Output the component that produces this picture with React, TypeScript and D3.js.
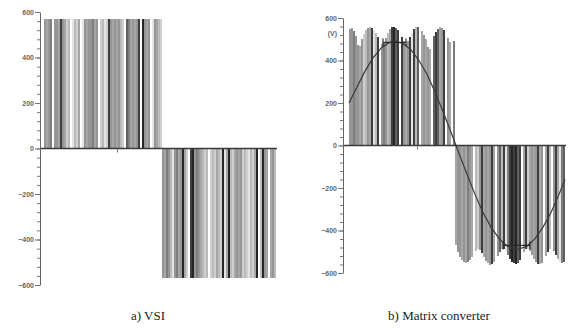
import React, { FC, useEffect, useRef } from "react"
import { select, scaleLinear, axisLeft, axisBottom, line, range } from "d3"

// tick labels (volts)
const majorTicks = [-600, -400, -200, 0, 200, 400, 600]
const minorTicks = range(-600, 601, 40)

// a) VSI: one stripe per 2 time units, shade 0 = gap, 9 = black
const vsiLevel = 570
const vsiPosShade = [5, 4, 5, 6, 0, 5, 5, 4, 8, 5, 4, 2, 3, 0, 1, 3, 2, 4, 0, 1, 5, 4, 5, 5, 6, 4, 5, 0, 2, 3, 1, 2, 8, 5, 4, 5, 4, 5, 3, 2, 0, 7, 6, 4, 5, 4, 5, 8, 0, 9, 5, 4, 5, 0, 1, 5, 4, 3, 2]
const vsiNegShade = [5, 4, 6, 5, 3, 1, 5, 6, 4, 5, 9, 4, 2, 0, 8, 9, 5, 6, 5, 4, 3, 2, 3, 0, 2, 3, 2, 4, 3, 2, 9, 1, 4, 9, 3, 2, 4, 5, 4, 5, 2, 3, 2, 1, 3, 2, 4, 9, 0, 3, 9, 5, 4, 0, 4, 5, 3]

// b) Matrix converter: pulse heights follow the input line-voltage humps
const mcPosTop = [550, 555, 540, 515, 475, 470, 500, 525, 545, 555, 558, 555, 545, 530, 510, 490, 480, 485, 505, 530, 548, 556, 558, 555, 545, 530, 510, 490, 480, 490, 510, 530, 548, 556, 558, 553, 540, 520, 500, 465, 455, 470, 515, 535, 550, 558, 555, 545, 525, 505, 488, 480, 490]
const mcPosShade = [5, 5, 6, 5, 5, 4, 5, 2, 3, 5, 4, 8, 1, 3, 8, 0, 5, 6, 5, 3, 4, 8, 9, 7, 8, 0, 8, 5, 4, 5, 8, 1, 8, 3, 7, 0, 4, 5, 4, 5, 4, 0, 7, 8, 7, 4, 5, 8, 0, 5, 4, 0, 6]
const mcNegTop = [470, 500, 525, 540, 550, 553, 550, 540, 525, 510, 495, 485, 490, 505, 525, 542, 553, 560, 558, 550, 535, 518, 500, 488, 485, 495, 515, 535, 550, 555, 558, 552, 540, 520, 500, 488, 485, 495, 515, 535, 550, 556, 558, 552, 540, 520, 500, 488, 485, 495, 515, 535, 548, 555, 550]
const mcNegShade = [4, 5, 5, 4, 5, 4, 6, 5, 4, 0, 3, 2, 5, 8, 4, 5, 4, 5, 8, 4, 0, 5, 7, 3, 8, 1, 6, 8, 9, 8, 9, 7, 8, 0, 4, 8, 2, 4, 5, 4, 5, 8, 4, 5, 0, 4, 8, 3, 0, 5, 8, 4, 1, 6, 7]

// fundamental output voltage (time units, volts)
const fundT = [0, 8, 16, 24, 32, 40, 46, 54, 62, 70, 78, 86, 94, 102, 107, 110, 118, 126, 134, 142, 150, 158, 168, 178, 186, 194, 202, 210, 216]
const fundV = [200, 275, 350, 412, 458, 484, 490, 480, 450, 400, 335, 252, 160, 62, 0, -38, -135, -230, -315, -384, -437, -473, -490, -474, -438, -384, -315, -230, -160]

// peak markers on the fundamental
const markStart = [34, 154]
const markEnd = [57, 181]
const markV = [485, -470]

const greys = ["#ffffff", "#e4e4e4", "#cfcfcf", "#bababa", "#a6a6a6", "#969696", "#7e7e7e", "#606060", "#3e3e3e", "#252525"]

const App: FC = () => {
  const svgRef = useRef<SVGSVGElement>(null)

  useEffect(() => {
    const svg = select(svgRef.current)
    svg.selectAll("*").remove()

    const drawAxis = (axisX: number, y: any, labelFont: number) => {
      const g = svg.append("g").attr("transform", `translate(${axisX},0)`)
      g.call(axisLeft(y).tickValues(minorTicks).tickSize(3).tickSizeOuter(0).tickFormat(() => ""))
      const major = svg.append("g").attr("transform", `translate(${axisX},0)`)
      major.call(axisLeft(y).tickValues(majorTicks).tickSize(5).tickSizeOuter(0))
      svg.selectAll(".domain").attr("stroke", "#666")
      svg.selectAll(".tick line").attr("stroke", "#777")
      major
        .selectAll("text")
        .attr("font-family", "Liberation Sans, Arial, sans-serif")
        .attr("font-size", labelFont)
        .attr("font-weight", "bold")
        .attr("fill", "#666")
        .attr("x", -6)
      major.select(".domain").remove()
    }

    const drawStripes = (
      x: any,
      y: any,
      start: number,
      tops: number[],
      shades: number[],
      sign: number,
    ) => {
      svg
        .append("g")
        .attr("shape-rendering", "crispEdges")
        .selectAll("rect")
        .data(shades.map((s, i) => ({ s, i, v: tops[i] * sign })).filter((d) => d.s > 0))
        .join("rect")
        .attr("x", (d) => x(start + d.i * 2))
        .attr("width", (d) => x(start + d.i * 2 + 2) - x(start + d.i * 2))
        .attr("y", (d) => Math.min(y(d.v), y(0)))
        .attr("height", (d) => Math.abs(y(d.v) - y(0)))
        .attr("fill", (d) => greys[d.s])
    }

    // ---- a) VSI
    const nL = (vsiPosShade.length + vsiNegShade.length) * 2
    const xL = scaleLinear().domain([0, nL]).range([44, 276])
    const yL = scaleLinear().domain([-600, 600]).range([285, 12])
    drawStripes(xL, yL, 0, vsiPosShade.map(() => vsiLevel), vsiPosShade, 1)
    drawStripes(xL, yL, vsiPosShade.length * 2, vsiNegShade.map(() => vsiLevel), vsiNegShade, -1)
    svg
      .append("line")
      .attr("x1", 40)
      .attr("x2", xL(nL) + 1)
      .attr("y1", yL(0))
      .attr("y2", yL(0))
      .attr("stroke", "#3a3a3a")
      .attr("stroke-width", 1.5)
    svg
      .append("g")
      .attr("transform", `translate(0,${yL(0)})`)
      .call(axisBottom(xL).tickValues([73]).tickSize(4).tickFormat(() => ""))
      .call((g) => g.select(".domain").remove())
      .selectAll("line")
      .attr("stroke", "#777")
    drawAxis(40, yL, 7)

    // ---- b) Matrix converter
    const nR = (mcPosShade.length + mcNegShade.length) * 2
    const xR = scaleLinear().domain([0, nR]).range([349, 565])
    const yR = scaleLinear().domain([-600, 600]).range([273, 18])
    drawStripes(xR, yR, 0, mcPosTop, mcPosShade, 1)
    drawStripes(xR, yR, mcPosShade.length * 2, mcNegTop, mcNegShade, -1)
    svg
      .append("line")
      .attr("x1", 343)
      .attr("x2", xR(nR) + 1)
      .attr("y1", yR(0))
      .attr("y2", yR(0))
      .attr("stroke", "#3a3a3a")
      .attr("stroke-width", 1.5)
    svg
      .append("g")
      .attr("transform", `translate(0,${yR(0)})`)
      .call(axisBottom(xR).tickValues([68]).tickSize(4).tickFormat(() => ""))
      .call((g) => g.select(".domain").remove())
      .selectAll("line")
      .attr("stroke", "#777")

    const fundLine = line<number>()
      .x((_, i) => xR(fundT[i]))
      .y((d) => yR(d))
    svg
      .append("path")
      .attr("d", fundLine(fundV))
      .attr("fill", "none")
      .attr("stroke", "#3a3a3a")
      .attr("stroke-width", 1.2)

    markV.forEach((v, i) => {
      const g = svg.append("g").attr("stroke", "#2a2a2a").attr("stroke-width", 1.2)
      g.append("line")
        .attr("x1", xR(markStart[i]))
        .attr("x2", xR(markEnd[i]))
        .attr("y1", yR(v))
        .attr("y2", yR(v))
      ;[markStart[i], markEnd[i]].forEach((t) =>
        g
          .append("line")
          .attr("x1", xR(t))
          .attr("x2", xR(t))
          .attr("y1", yR(v) - 4)
          .attr("y2", yR(v) + 4),
      )
    })

    drawAxis(343, yR, 7)
    svg
      .append("text")
      .attr("x", 337)
      .attr("y", yR(525))
      .attr("dy", "0.32em")
      .attr("text-anchor", "end")
      .attr("font-family", "Liberation Sans, Arial, sans-serif")
      .attr("font-size", 7)
      .attr("font-weight", "bold")
      .attr("fill", "#666")
      .text("(V)")

    // captions
    const captions = [
      { x: 148, text: "a) VSI" },
      { x: 439, text: "b) Matrix converter" },
    ]
    svg
      .selectAll("text.caption")
      .data(captions)
      .join("text")
      .attr("class", "caption")
      .attr("x", (d) => d.x)
      .attr("y", 320)
      .attr("text-anchor", "middle")
      .attr("font-family", "Liberation Serif, Times New Roman, serif")
      .attr("font-size", 13)
      .attr("fill", "#222")
      .text((d) => d.text)
  }, [])

  return (
    <svg
      ref={svgRef}
      width={574}
      height={335}
      style={{ position: "absolute", left: 0, top: 0, background: "#fff" }}
    />
  )
}

export default App
